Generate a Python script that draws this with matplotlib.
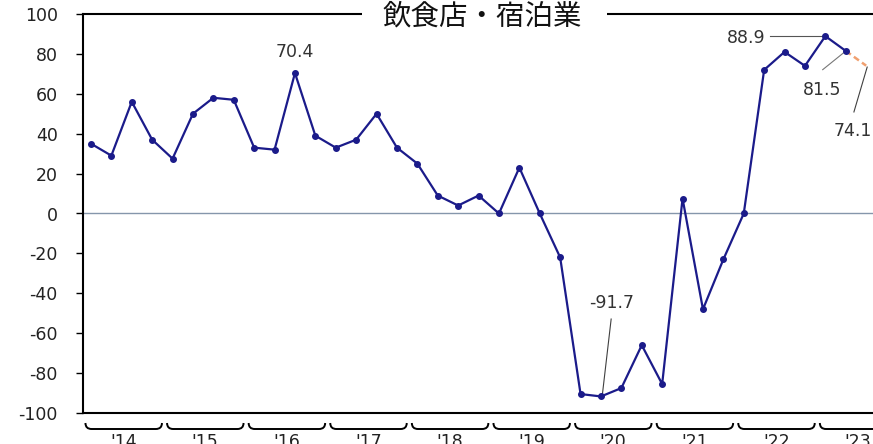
import numpy as np
import matplotlib
matplotlib.use("Agg")
import matplotlib.pyplot as plt
from matplotlib.path import Path
from matplotlib.patches import PathPatch
import matplotlib.transforms as mtransforms

plt.rcParams['font.family'] = ['DejaVu Sans', 'Noto Sans CJK JP']
plt.rcParams['axes.unicode_minus'] = False

title = "飲食店・宿泊業"
years = ["'14", "'15", "'16", "'17", "'18", "'19", "'20", "'21", "'22", "'23"]
# quarterly DI, 2014Q1 .. 2023Q2
values = [35, 29, 56, 37,
          27.5, 50, 58, 57,
          33, 32, 70.4, 39,
          33, 37, 50, 33,
          25, 9, 4, 9,
          0, 23, 0, -22,
          -90.5, -91.7, -87.5, -66,
          -85.5, 7.5, -48, -23,
          0, 72, 81, 74,
          88.9, 81.5]
forecast = 74.1

navy = "#1b1b8a"
x = np.arange(len(values))

fig = plt.figure(figsize=(8.73, 4.44), dpi=100)
ax = fig.add_axes([82.8 / 873, 31 / 444, 816 / 873, 399 / 444])

ax.axhline(0, color="#8596ab", lw=1, zorder=1)
ax.plot(x, values, color=navy, lw=1.6, marker="o", ms=4, zorder=3)
ax.plot([x[-1], x[-1] + 1], [values[-1], forecast], color="#f0a070",
        lw=1.8, ls=(0, (2.5, 1.5)), zorder=2)

ax.set_xlim(-0.4, 39.6)
ax.set_ylim(-100, 100)
ax.set_yticks(np.arange(-100, 101, 20))
ax.set_xticks([])
ax.tick_params(axis="y", length=5, width=1, pad=13, labelsize=12.5,
               labelcolor="#222222")
for s in ["left", "bottom", "top"]:
    ax.spines[s].set_linewidth(1.5)
    ax.spines[s].set_color("black")
ax.spines["right"].set_visible(False)

# white box hides the top spine behind the title
ax.add_patch(plt.Rectangle(((362 - 82.8) / 816, 0.97), (607 - 362) / 816, 0.06,
                           transform=ax.transAxes, facecolor="white",
                           edgecolor="none", clip_on=False, zorder=5))
ax.text(0.489, 1.0 - 2.5 / 399, title, transform=ax.transAxes, ha="center",
        va="center", fontsize=20.5, family=["Noto Sans CJK JP"],
        color="#111111", zorder=6)

# year braces under the axis
trans = mtransforms.blended_transform_factory(ax.transData, ax.transAxes)
y_top = -10 / 399
y_low = -16 / 399
for i, yr in enumerate(years):
    x0 = 4 * i - 0.27
    x1 = 4 * i + 3.48
    r = 0.3
    verts = [(x0, y_top), (x0, y_low), (x0 + r, y_low),
             (x1 - r, y_low), (x1, y_low), (x1, y_top)]
    codes = [Path.MOVETO, Path.CURVE3, Path.CURVE3,
             Path.LINETO, Path.CURVE3, Path.CURVE3]
    ax.add_patch(PathPatch(Path(verts, codes), transform=trans, fill=False,
                           lw=1.4, color="black", clip_on=False))
    ax.text(4 * i + 1.6, -29 / 399, yr, transform=trans, ha="center",
            va="center", fontsize=12.5, color="#222222", clip_on=False)

# value labels
lc = "#404040"
ax.text(10, 80.8, "70.4", ha="center", va="center", fontsize=12.5, color="#333333")
ax.text(33.05, 88, "88.9", ha="right", va="center", fontsize=12.5, color="#333333")
ax.plot([33.3, 36], [88.9, 88.9], color="#555555", lw=0.8)
ax.text(35.85, 61.8, "81.5", ha="center", va="center", fontsize=12.5, color="#333333")
ax.plot([35.87, 36.9], [72.1, 80.6], color="#777777", lw=0.8)
ax.text(36.4, 41.4, "74.1", ha="left", va="center", fontsize=12.5, color="#333333")
ax.plot([37.4, 38.05], [50.9, 73.4], color=lc, lw=0.8)
ax.text(25.5, -44.9, "-91.7", ha="center", va="center", fontsize=12.5, color="#333333")
ax.plot([25.5, 25.06], [-52.9, -91.6], color=lc, lw=0.8)

fig.savefig("out.png", dpi=100)
